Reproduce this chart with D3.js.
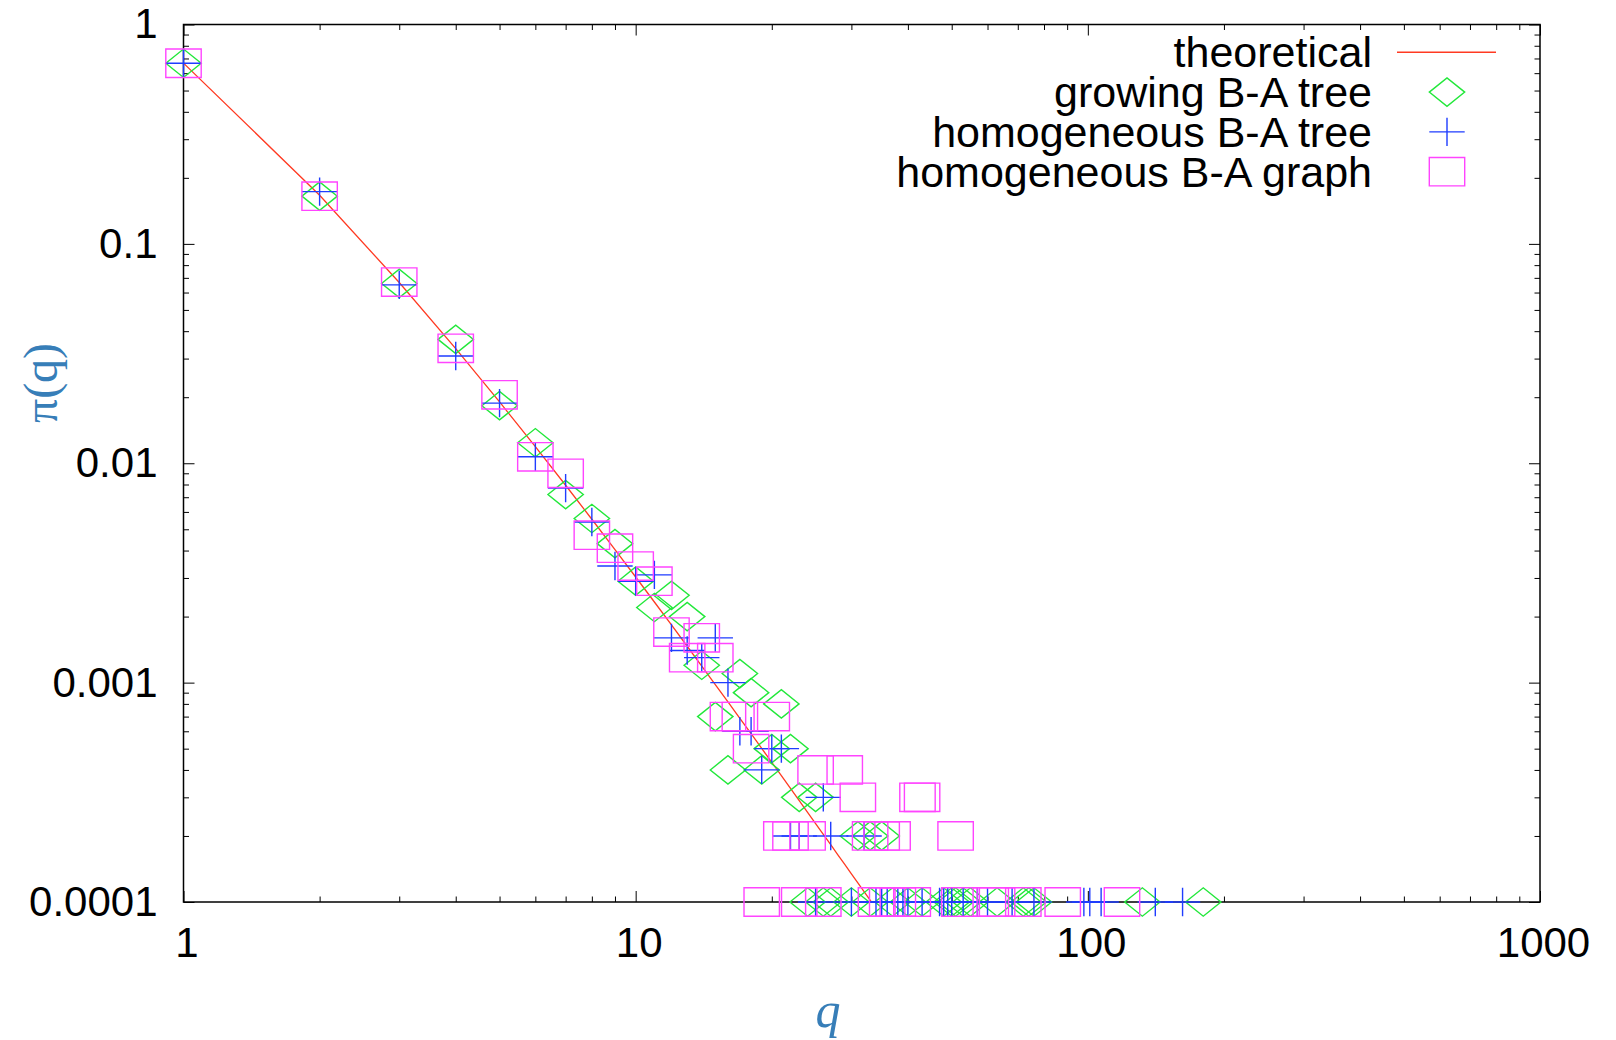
<!DOCTYPE html>
<html lang="en">
<head>
  <meta charset="utf-8">
  <title>pi(q)</title>
  <script src="https://cdn.jsdelivr.net/npm/d3@7"></script>
  <style>
    body { margin: 0; background: #fff; }
    svg text { font-family: "Liberation Sans", Arial, sans-serif; }
  </style>
</head>
<body>
  <svg id="chart" width="1616" height="1040"></svg>

  <script>
    // theoretical curve at integer q
    const theoryQ = [1, 2, 3, 4, 5, 6, 7, 8, 9, 10, 11, 12, 13, 14, 15, 16, 17,
      18, 19, 20, 21, 22, 23, 24, 25, 26, 27, 28, 29, 30, 31, 32, 33, 34]
    const theoryP = [0.6667, 0.1667, 0.06667, 0.03333, 0.01905, 0.01190, 0.007937,
      0.005556, 0.004040, 0.003030, 0.002331, 0.001832, 0.001465, 0.001190,
      0.0009804, 0.0008170, 0.0006878, 0.0005848, 0.0005013, 0.0004329,
      0.0003765, 0.0003294, 0.0002899, 0.0002564, 0.0002279, 0.0002035,
      0.0001824, 0.0001642, 0.0001483, 0.0001344, 0.0001222, 0.0001114,
      0.0001019, 0.0000934]

    // growing B-A tree (diamonds)
    const growingQ = [1, 2, 3, 4, 5, 6, 7, 8, 9, 10, 11, 12, 13, 14, 15, 16, 17, 18,
      19, 20, 21, 22, 23, 24, 25, 26, 27, 30, 31, 33, 33, 35, 37, 40, 43, 48, 50,
      51, 53, 55, 63, 72, 74, 76, 132, 180]
    const growingP = [0.666, 0.165, 0.066, 0.0367, 0.0183, 0.0124, 0.0072, 0.0056,
      0.0043, 0.0029, 0.0022, 0.0025, 0.0020, 0.0012, 0.0007, 0.0004, 0.0011,
      0.0009, 0.0004, 0.0005, 0.0008, 0.0005, 0.0003, 0.0001, 0.0003, 0.0001,
      0.0001, 0.0001, 0.0002, 0.0002, 0.0001, 0.0002, 0.0001, 0.0001, 0.0001,
      0.0001, 0.0001, 0.0001, 0.0001, 0.0001, 0.0001, 0.0001, 0.0001, 0.0001,
      0.0001, 0.0001]

    // homogeneous B-A tree (plus)
    const homTreeQ = [1, 2, 3, 4, 5, 6, 7, 8, 9, 10, 11, 12, 13, 14, 15, 16, 17, 18,
      19, 20, 21, 22, 23, 25, 26, 27, 30, 32, 34, 35, 36, 38, 39, 40, 43, 47, 48,
      49, 50, 53, 57, 60, 68, 76, 98, 101, 107, 141, 162]
    const homTreeP = [0.666, 0.173, 0.065, 0.0308, 0.0188, 0.0107, 0.0077, 0.0054,
      0.0034, 0.0029, 0.0031, 0.0016, 0.0014, 0.0013, 0.0016, 0.0010, 0.0006,
      0.0006, 0.0004, 0.0005, 0.0005, 0.0002, 0.0002, 0.0001, 0.0003, 0.0002,
      0.0001, 0.0002, 0.0001, 0.0001, 0.0001, 0.0001, 0.0001, 0.0001, 0.0001,
      0.0001, 0.0001, 0.0001, 0.0001, 0.0001, 0.0001, 0.0001, 0.0001, 0.0001,
      0.0001, 0.0001, 0.0001, 0.0001, 0.0001]

    // homogeneous B-A graph (squares)
    const homGraphQ = [1, 2, 3, 4, 5, 6, 7, 8, 9, 10, 11, 12, 13, 14, 15, 16, 17,
      18, 19, 20, 21, 22, 23, 24, 25, 26, 29, 31, 33, 34, 35, 36, 37, 38, 41, 42,
      43, 51, 52, 61, 63, 72, 88, 119]
    const homGraphP = [0.666, 0.165, 0.067, 0.0334, 0.0205, 0.0107, 0.0090, 0.0047,
      0.0041, 0.0034, 0.0029, 0.0017, 0.0013, 0.0016, 0.0013, 0.0007, 0.0007,
      0.0005, 0.0001, 0.0007, 0.0002, 0.0002, 0.0001, 0.0002, 0.0004, 0.0001,
      0.0004, 0.0003, 0.0002, 0.0001, 0.0002, 0.0001, 0.0002, 0.0001, 0.0001,
      0.0003, 0.0003, 0.0002, 0.0001, 0.0001, 0.0001, 0.0001, 0.0001, 0.0001]

    const xTicks = [1, 10, 100, 1000]
    const xTickLabels = ["1", "10", "100", "1000"]
    const yTicks = [1, 0.1, 0.01, 0.001, 0.0001]
    const yTickLabels = ["1", "0.1", "0.01", "0.001", "0.0001"]
    const legendLabels = ["theoretical", "growing B-A tree", "homogeneous B-A tree", "homogeneous B-A graph"]

    const red = "#ff3a22", green = "#22e83a", blue = "#1f3dff", magenta = "#ff44ff"
    const axisBlue = "#377eb8"

    const plotL = 183.5, plotR = 1540, plotT = 24.5, plotB = 902
    const x = d3.scaleLog().domain([1, 1000]).range([plotL, plotR])
    const y = d3.scaleLog().domain([0.0001, 1]).range([plotB, plotT])

    const svg = d3.select("#chart")
    svg.append("rect").attr("width", 1616).attr("height", 1040).attr("fill", "#fff")

    // minor ticks 2..9 per decade
    const minorX = [], minorY = []
    for (let d = 1; d < 1000; d *= 10) for (let k = 2; k <= 9; k++) minorX.push(d * k)
    for (let e = -4; e < 0; e++) for (let k = 2; k <= 9; k++) minorY.push(k * Math.pow(10, e))

    const fontSize = 42
    const tickLayer = svg.append("g")

    const addAxis = function (axisFn, scale, values, size, tx, ty, fmt, pad) {
      const g = tickLayer.append("g")
        .attr("transform", `translate(${tx},${ty})`)
        .call(axisFn(scale).tickValues(values).tickSizeInner(-size).tickSizeOuter(0)
          .tickPadding(pad || 3).tickFormat(fmt || (() => "")))
      g.select(".domain").remove()
      g.selectAll("line").attr("stroke", "#000").attr("stroke-width", 1)
      g.selectAll("text").attr("font-size", fontSize).attr("fill", "#000")
        .style("font-family", "'Liberation Sans', Arial, sans-serif")
      return g
    }

    addAxis(d3.axisBottom, x, xTicks, 11, 0, plotB, (d, i) => xTickLabels[i], 25)
      .selectAll("text").attr("dx", 3)
    addAxis(d3.axisBottom, x, minorX, 5.5, 0, plotB)
    addAxis(d3.axisTop, x, xTicks, 11, 0, plotT)
    addAxis(d3.axisTop, x, minorX, 5.5, 0, plotT)
    addAxis(d3.axisLeft, y, yTicks, 11, plotL, 0, (d, i) => yTickLabels[i], 26)
    addAxis(d3.axisLeft, y, minorY, 5.5, plotL, 0)
    addAxis(d3.axisRight, y, yTicks, 11, plotR, 0)
    addAxis(d3.axisRight, y, minorY, 5.5, plotR, 0)

    svg.append("rect")
      .attr("x", plotL).attr("y", plotT)
      .attr("width", plotR - plotL).attr("height", plotB - plotT)
      .attr("fill", "none").attr("stroke", "#000").attr("stroke-width", 1.5)

    // axis titles
    svg.append("text")
      .attr("x", 828).attr("y", 1027)
      .attr("text-anchor", "middle")
      .style("font-family", "'Liberation Serif', 'Times New Roman', serif")
      .style("font-style", "italic")
      .attr("font-size", 50).attr("fill", axisBlue)
      .text("q")

    svg.append("text")
      .attr("transform", "translate(57,383) rotate(-90)")
      .attr("text-anchor", "middle")
      .style("font-family", "'Liberation Serif', 'Times New Roman', serif")
      .attr("font-size", 48).attr("fill", axisBlue)
      .text("π(q)")

    // clip for the line
    svg.append("clipPath").attr("id", "plotClip")
      .append("rect").attr("x", plotL).attr("y", plotT)
      .attr("width", plotR - plotL).attr("height", plotB - plotT)

    const theory = theoryQ.map((q, i) => ({ q: q, p: theoryP[i] }))
    svg.append("path")
      .datum(theory)
      .attr("clip-path", "url(#plotClip)")
      .attr("fill", "none").attr("stroke", red).attr("stroke-width", 1.3)
      .attr("d", d3.line().x(d => x(d.q)).y(d => y(d.p)))

    // marker shapes (half width / half height)
    const hw = 17.7, hh = 14.2
    const diamondPath = `M${-hw},0L0,${-hh}L${hw},0L0,${hh}Z`
    const plusPath = `M${-hw},0H${hw}M0,${-hh}V${hh}`
    const squarePath = `M${-hw},${-hh}H${hw}V${hh}H${-hw}Z`

    const drawPoints = function (qs, ps, path, color) {
      svg.append("g").selectAll("path")
        .data(qs.map((q, i) => ({ q: q, p: ps[i] })))
        .join("path")
        .attr("transform", d => `translate(${x(d.q)},${y(d.p)})`)
        .attr("d", path)
        .attr("fill", "none").attr("stroke", color).attr("stroke-width", 1.4)
    }

    drawPoints(growingQ, growingP, diamondPath, green)
    drawPoints(homTreeQ, homTreeP, plusPath, blue)
    drawPoints(homGraphQ, homGraphP, squarePath, magenta)

    // legend
    const legend = svg.append("g")
    const legendPaths = [null, diamondPath, plusPath, squarePath]
    const legendColors = [red, green, blue, magenta]
    legendLabels.forEach(function (label, i) {
      const ry = 52.3 + i * 39.8
      legend.append("text")
        .attr("x", 1372).attr("y", ry + 15)
        .attr("text-anchor", "end")
        .attr("font-size", 43).attr("fill", "#000")
        .text(label)
      if (i === 0) {
        legend.append("line")
          .attr("x1", 1397).attr("x2", 1496).attr("y1", ry).attr("y2", ry)
          .attr("stroke", red).attr("stroke-width", 1.4)
      } else {
        legend.append("path")
          .attr("transform", `translate(1447,${ry})`)
          .attr("d", legendPaths[i])
          .attr("fill", "none").attr("stroke", legendColors[i]).attr("stroke-width", 1.4)
      }
    })
  </script>
</body>
</html>
